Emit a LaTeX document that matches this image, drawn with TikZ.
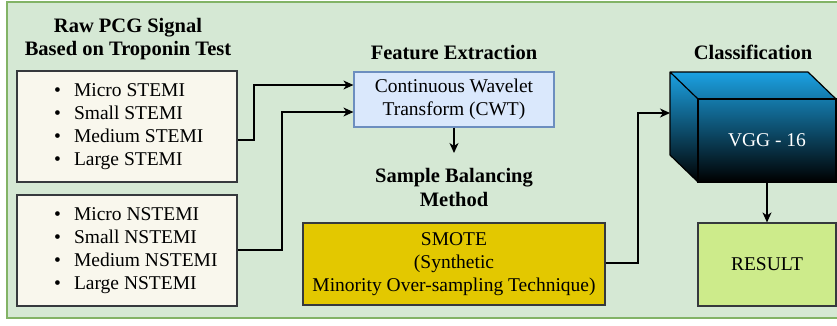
\documentclass[tikz,border=0pt]{standalone}
\usepackage{fontspec}
\setmainfont{Liberation Serif}
\usetikzlibrary{arrows.meta}

\definecolor{panelfill}{HTML}{D5E8D4}
\definecolor{panelline}{HTML}{82B366}
\definecolor{listfill}{HTML}{F9F7ED}
\definecolor{boxline}{HTML}{36393D}
\definecolor{cwtfill}{HTML}{DAE8FC}
\definecolor{cwtline}{HTML}{6C8EBF}
\definecolor{smotefill}{HTML}{E3C800}
\definecolor{resultfill}{HTML}{CDEB8B}
\definecolor{cubetop}{HTML}{1BA1E2}

\tikzset{
  txt/.style={font=\fontsize{19.5}{23}\selectfont, align=center, inner sep=0pt},
  hdr/.style={txt, font=\fontsize{20.5}{23.5}\selectfont\bfseries},
  listbox/.style={draw=boxline, fill=listfill, line width=1.2pt, inner sep=0pt,
    minimum width=220pt, minimum height=111pt},
  listtxt/.style={txt, align=left, anchor=west},
  flow/.style={draw=black, line width=1.3pt,
    -{Stealth[length=10pt,width=9pt,inset=3pt]}},
}

\newcommand{\bul}{\textbullet\hspace{13pt}}

\begin{document}
\begin{tikzpicture}[x=1pt,y=-1pt]
  \useasboundingbox (0,0) rectangle (837,325);

  % green panel
  \draw[fill=panelfill, draw=panelline, line width=1.6pt] (7,2) rectangle (845,318);

  % raw signal groups
  \node[hdr] (rawhdr) at (128,38.9) {Raw PCG Signal\\Based on Troponin Test};
  \node[listbox] (stemi) at (127,126.5) {};
  \node[listtxt] (stemitxt) at (54,127)
    {\bul Micro STEMI\\\bul Small STEMI\\\bul Medium STEMI\\\bul Large STEMI};
  \node[listbox] (nstemi) at (127,250.5) {};
  \node[listtxt] (nstemitxt) at (54,251)
    {\bul Micro NSTEMI\\\bul Small NSTEMI\\\bul Medium NSTEMI\\\bul Large NSTEMI};

  % feature extraction
  \node[hdr, anchor=base] (feathdr) at (454,59) {Feature Extraction};
  \node[txt, draw=cwtline, fill=cwtfill, line width=1.2pt,
        minimum width=200pt, minimum height=55pt] (cwt) at (454,99.5)
        {Continuous Wavelet\\Transform (CWT)};
  \coordinate (balin) at (454,153);

  % sample balancing
  \node[hdr] (balhdr) at (454,187.7) {Sample Balancing\\Method};
  \node[txt, draw=boxline, fill=smotefill, line width=1.2pt,
        minimum width=302pt, minimum height=82pt] (smote) at (454,264)
        {SMOTE\\(Synthetic\\Minority Over-sampling Technique)};

  % classification cube
  \node[hdr, anchor=base] (clshdr) at (753,59) {Classification};
  \shade[top color=cubetop, bottom color=black]
    (670,72) -- (808,72) -- (836,99) -- (836,182) -- (698,182) -- (670,155) -- cycle;
  \draw[line width=1.2pt, line join=round]
    (670,72) -- (808,72) -- (836,99) -- (836,182) -- (698,182) -- (670,155) -- cycle
    (670,72) -- (698,99) -- (836,99);
  \node[txt, draw=black, line width=1.2pt, text=white,
        minimum width=138pt, minimum height=83pt] (vgg) at (767,140.5) {VGG - 16};
  \coordinate (cubein) at (670,113);

  \node[txt, draw=boxline, fill=resultfill, line width=1.2pt,
        minimum width=138pt, minimum height=83pt] (result) at (767,264.5) {RESULT};

  % connectors
  \draw[flow] (stemi.east |- 0,140) -| (254,85) -- (cwt.west |- 0,85);
  \draw[flow] (nstemi.east |- 0,250) -| (282,112) -- (cwt.west |- 0,112);
  \draw[flow] (cwt.south) -- (balin);
  \draw[flow] (smote.east |- 0,263) -| (638,113) -- (cubein);
  \draw[flow] (vgg.south) -- (result.north);
\end{tikzpicture}
\end{document}
